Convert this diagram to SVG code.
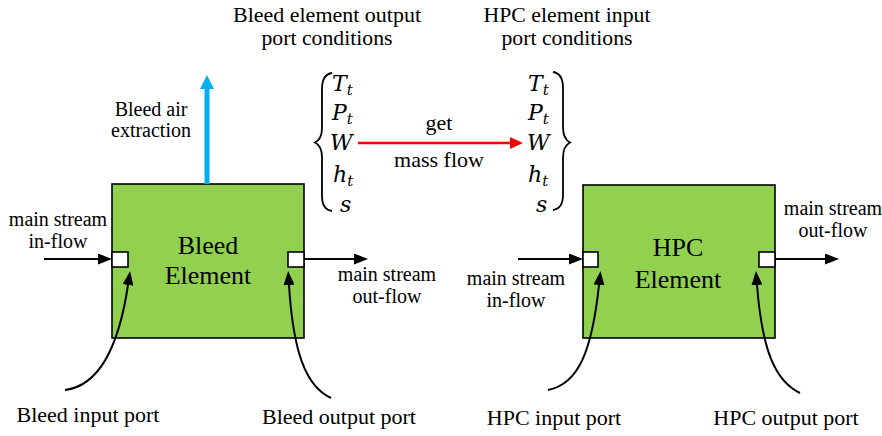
<svg xmlns="http://www.w3.org/2000/svg" width="882" height="436" viewBox="0 0 882 436">
<style>
  .lbl{font-family:'Liberation Serif','Times New Roman',serif;font-size:20px;fill:#000;text-anchor:middle}
  .lbl2{font-family:'Liberation Serif','Times New Roman',serif;font-size:22px;fill:#000;text-anchor:middle}
  .hdr{font-family:'Liberation Serif','Times New Roman',serif;font-size:21px;fill:#000;text-anchor:middle}
  .box{fill:#92D050;stroke:#000;stroke-width:1.6}
  .boxt{font-family:'Liberation Serif','Times New Roman',serif;font-size:26px;fill:#000;text-anchor:middle}
  .port{fill:#fff;stroke:#000;stroke-width:1.6}
  .math{font-family:'DejaVu Serif',serif;font-style:italic;font-size:22px;fill:#000}
  .sub{font-size:15px}
  .conn{stroke:#000;stroke-width:2;fill:none}
  .brace{stroke:#000;stroke-width:1.8;fill:none}
</style>
<defs>
  <marker id="ah" viewBox="0 0 14 11" refX="0" refY="5.5" markerWidth="14" markerHeight="11" orient="auto" markerUnits="userSpaceOnUse">
    <path d="M0,0 L14,5.5 L0,11 z" fill="#000"/>
  </marker>
  <marker id="ahr" viewBox="0 0 13 12" refX="0" refY="6" markerWidth="13" markerHeight="12" orient="auto" markerUnits="userSpaceOnUse">
    <path d="M0,0 L13,6 L0,12 z" fill="#FF0000"/>
  </marker>
  <marker id="ahb" viewBox="0 0 14 14" refX="0" refY="7" markerWidth="14" markerHeight="14" orient="auto" markerUnits="userSpaceOnUse">
    <path d="M0,0 L14,7 L0,14 z" fill="#00B0F0"/>
  </marker>
</defs>

<g id="header-bleed">
  <text class="hdr" x="327" y="22" textLength="188" lengthAdjust="spacingAndGlyphs">Bleed element output</text>
  <text class="hdr" x="327" y="45" textLength="131" lengthAdjust="spacingAndGlyphs">port conditions</text>
</g>
<g id="header-hpc">
  <text class="hdr" x="567" y="22" textLength="167" lengthAdjust="spacingAndGlyphs">HPC element input</text>
  <text class="hdr" x="567" y="45" textLength="131" lengthAdjust="spacingAndGlyphs">port conditions</text>
</g>

<g id="bleed-element">
  <rect class="box" x="112" y="184" width="192" height="154"/>
  <text class="boxt" x="208" y="254">Bleed</text>
  <text class="boxt" x="208" y="284">Element</text>
</g>
<g id="hpc-element">
  <rect class="box" x="583" y="185" width="192" height="153"/>
  <text class="boxt" x="678" y="256">HPC</text>
  <text class="boxt" x="678" y="288">Element</text>
</g>

<g id="bleed-input-port">
  <rect class="port" x="112" y="252" width="16" height="15"/>
  <text class="lbl2" x="88" y="422">Bleed input port</text>
</g>
<g id="bleed-output-port">
  <rect class="port" x="288" y="252" width="16" height="15"/>
  <text class="lbl2" x="339" y="424">Bleed output port</text>
</g>
<g id="hpc-input-port">
  <rect class="port" x="583" y="252" width="15" height="15"/>
  <text class="lbl2" x="554" y="425">HPC input port</text>
</g>
<g id="hpc-output-port">
  <rect class="port" x="759" y="252" width="16" height="15"/>
  <text class="lbl2" x="786" y="425">HPC output port</text>
</g>

<g id="bleed-conditions">
  <path class="brace" d="M332,73 C325,74 322,79 322,89 L322,128 C322,136 320,140 315,142.5 C320,145 322,149 322,157 L322,196 C322,205 325,210 332,211"/>
  <text class="math" x="332" y="91">T<tspan class="sub" dy="4">t</tspan></text>
  <text class="math" x="332" y="120">P<tspan class="sub" dy="4">t</tspan></text>
  <text class="math" x="330" y="150">W</text>
  <text class="math" x="333" y="182">h<tspan class="sub" dy="4">t</tspan></text>
  <text class="math" x="340" y="212">s</text>
</g>
<g id="hpc-conditions">
  <path class="brace" d="M553,72 C560,73 563,78 563,88 L563,127 C563,135 565,140 570,142.5 C565,145 563,150 563,158 L563,195 C563,204 560,209 553,210"/>
  <text class="math" x="528" y="91">T<tspan class="sub" dy="4">t</tspan></text>
  <text class="math" x="528" y="120">P<tspan class="sub" dy="4">t</tspan></text>
  <text class="math" x="527" y="150">W</text>
  <text class="math" x="528" y="182">h<tspan class="sub" dy="4">t</tspan></text>
  <text class="math" x="536" y="212">s</text>
</g>

<g id="connectors">
  <line x1="207" y1="184" x2="207" y2="89" stroke="#00B0F0" stroke-width="5" marker-end="url(#ahb)"/>
  <line x1="358" y1="143" x2="510" y2="143" stroke="#FF0000" stroke-width="2.5" marker-end="url(#ahr)"/>
  <line class="conn" x1="44" y1="259" x2="98" y2="259" marker-end="url(#ah)"/>
  <line class="conn" x1="304" y1="259" x2="354" y2="259" marker-end="url(#ah)"/>
  <line class="conn" x1="518" y1="259" x2="569" y2="259" marker-end="url(#ah)"/>
  <line class="conn" x1="775" y1="259" x2="825" y2="259" marker-end="url(#ah)"/>
  <path class="conn" d="M65,390 C97,386 118,352 128,285" marker-end="url(#ah)"/>
  <path class="conn" d="M331,398 C305,386 293,350 289,285" marker-end="url(#ah)"/>
  <path class="conn" d="M548,390 C579,384 592,350 599,285" marker-end="url(#ah)"/>
  <path class="conn" d="M800,393 C775,381 762,350 757,285" marker-end="url(#ah)"/>
</g>

<g id="labels">
  <text class="lbl" x="151" y="116">Bleed air</text>
  <text class="lbl" x="151" y="137">extraction</text>
  <text class="lbl" x="58" y="226">main stream</text>
  <text class="lbl" x="58" y="248">in-flow</text>
  <text class="lbl" x="387" y="281">main stream</text>
  <text class="lbl" x="387" y="303">out-flow</text>
  <text class="lbl" x="516" y="285">main stream</text>
  <text class="lbl" x="516" y="307">in-flow</text>
  <text class="lbl" x="833" y="215">main stream</text>
  <text class="lbl" x="833" y="237">out-flow</text>
  <text class="lbl2" x="439" y="130">get</text>
  <text class="lbl2" x="439" y="167">mass flow</text>
</g>
</svg>
